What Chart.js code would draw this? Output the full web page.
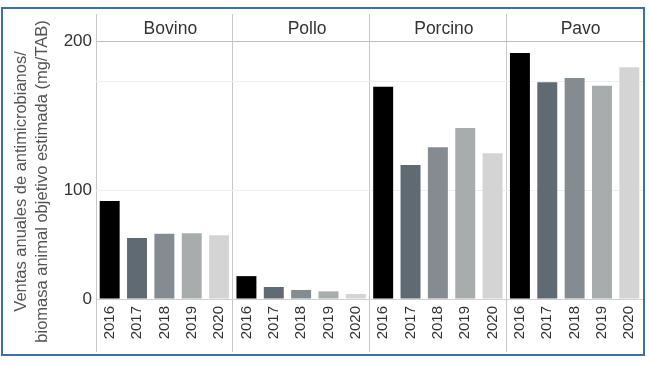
<!DOCTYPE html>
<html>
<head>
<meta charset="utf-8">
<script src="https://cdn.jsdelivr.net/npm/chart.js@4.4.1/dist/chart.umd.min.js"></script>
<style>
  html, body { margin: 0; padding: 0; background: #fff; }
  #wrap { position: relative; width: 650px; height: 366px; }
  #frame { position: absolute; left: 1px; top: 7px; width: 644px; height: 349px;
           box-sizing: border-box; border: 2px solid #3d6eb4; pointer-events: none; }
  canvas { position: absolute; left: 0; top: 0; }
</style>
</head>
<body>
<div id="wrap">
  <canvas id="chart" width="650" height="366"></canvas>
  <div id="frame"></div>
</div>
<script>
// ── data ──
const SPECIES = ['Bovino', 'Pollo', 'Porcino', 'Pavo'];
const YEARS   = ['2016', '2017', '2018', '2019', '2020'];
const BOVINO  = [90, 56, 60, 60.5, 58.5];
const POLLO   = [21, 11, 8.3, 7, 4.6];
const PORCINO = [195, 123, 139.5, 157, 134];
const PAVO    = [226, 199, 203, 196, 213];
const YEAR_COLORS = ['#000000', '#5f6a73', '#858c91', '#a9acad', '#d4d4d4'];
const Y_TICKS = [0, 100, 200];
const Y_MAX = 237;
const Y_TITLE = ['Ventas anuales de antimicrobianos/', 'biomasa animal objetivo estimada (mg/TAB)'];

const labels = SPECIES.flatMap(() => YEARS);
const values = [...BOVINO, ...POLLO, ...PORCINO, ...PAVO];
const colors = labels.map((_, i) => YEAR_COLORS[i % YEARS.length]);

const FONT = 'Arial, "Liberation Sans", sans-serif';
const pad = '\u00a0'.repeat(5); // nudges the centred title down like the original

new Chart(document.getElementById('chart'), {
  type: 'bar',
  data: {
    labels,
    datasets: [{ data: values, backgroundColor: colors, borderWidth: 0,
                 barPercentage: 0.73, categoryPercentage: 1 }]
  },
  options: {
    responsive: false,
    animation: false,
    layout: { padding: { left: 4, right: 7, top: 14, bottom: 14 } },
    plugins: { legend: { display: false } },
    scales: {
      x: {
        position: 'bottom',
        offset: true,
        afterFit: s => { s.height = 53; },
        grid: {
          offset: true, drawOnChartArea: false, tickLength: 53,
          tickColor: ctx => (ctx.index !== undefined && ctx.index % 5 === 0) ? '#c8c8c8' : 'transparent'
        },
        border: { color: '#d0d0d0' },
        ticks: { autoSkip: false, minRotation: 90, maxRotation: 90, padding: -46,
                 color: '#333', font: { family: FONT, size: 15 } }
      },
      x2: {
        type: 'category',
        position: 'top',
        labels: SPECIES,
        offset: true,
        afterFit: s => { s.height = 27; },
        grid: { offset: true, drawOnChartArea: true, tickLength: 27, color: '#c8c8c8', tickColor: '#c8c8c8' },
        border: { color: '#bdbdbd' },
        ticks: { padding: -26, labelOffset: 6, color: '#333', font: { family: FONT, size: 17.5 } }
      },
      y: {
        min: 0,
        max: Y_MAX,
        afterFit: s => { s.width = 92; },
        afterBuildTicks: s => { s.ticks = [...Y_TICKS, Y_MAX].map(v => ({ value: v })); },
        grid: {
          drawTicks: false,
          color: ctx => ctx.tick.value === 0 ? '#d0d0d0' : ctx.tick.value === Y_MAX ? 'transparent' : '#efefef'
        },
        border: { display: false },
        ticks: {
          padding: 4, color: '#333', font: { family: FONT, size: 17 },
          // the original prints its "200" at the top of the axis
          callback: v => v === Y_MAX ? String(Y_TICKS[2]) : v === Y_TICKS[2] ? '' : String(v)
        },
        title: {
          display: true,
          text: Y_TITLE.map(t => t + pad),
          color: '#555',
          padding: { top: 7, bottom: 0 },
          font: { family: FONT, size: 16.5, lineHeight: '21px' }
        }
      }
    }
  }
});
</script>
</body>
</html>
